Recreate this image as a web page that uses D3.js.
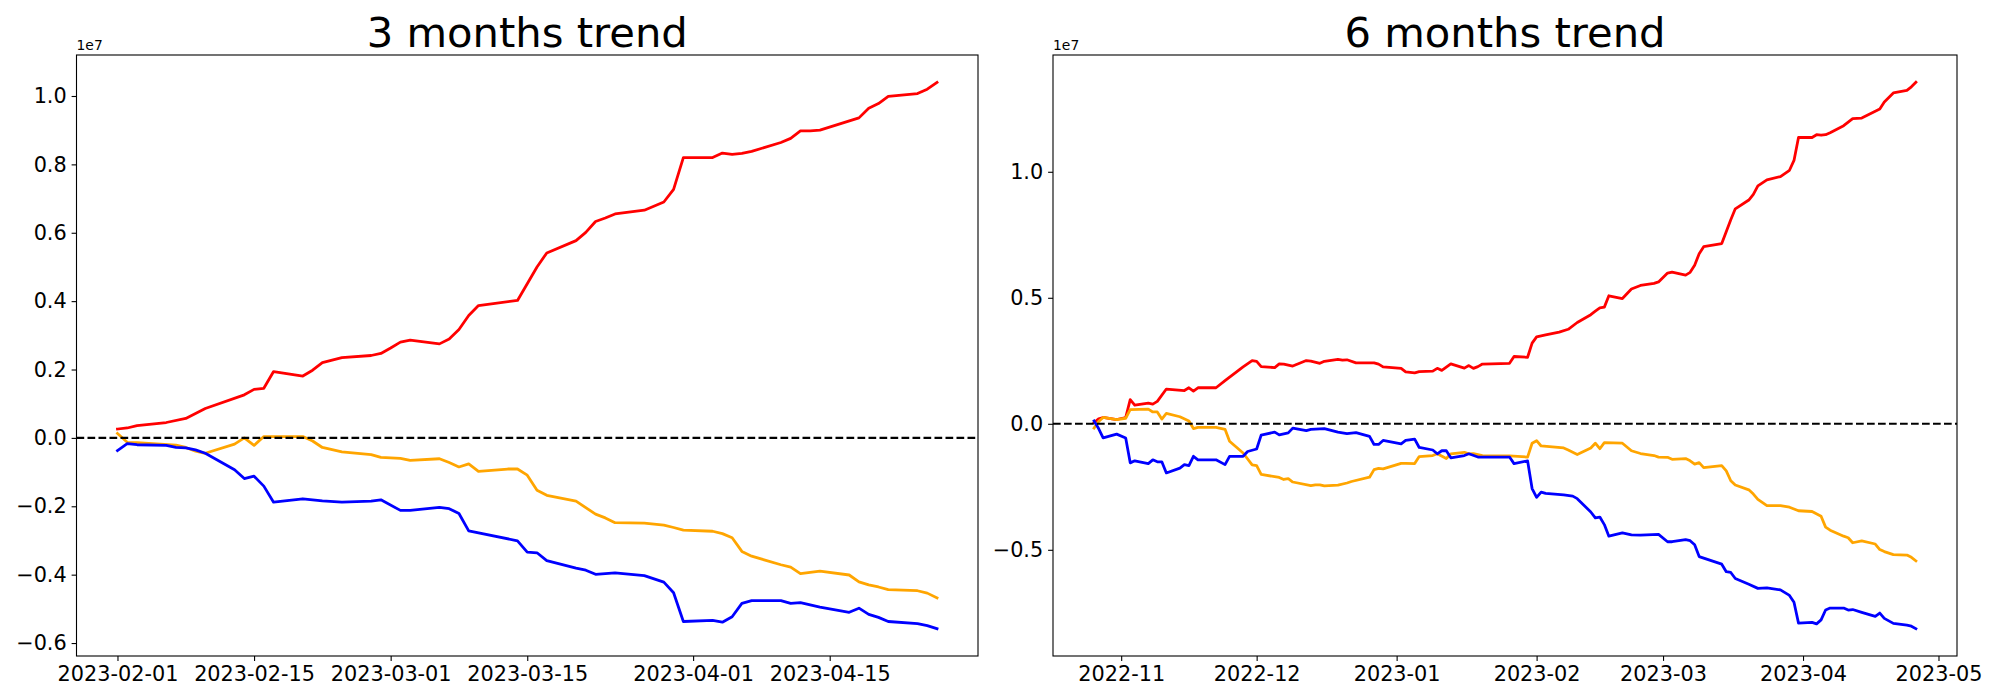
<!DOCTYPE html>
<html>
<head>
<meta charset="utf-8">
<script src="https://cdn.jsdelivr.net/npm/d3@7"></script>
<style>
  body { margin: 0; background: #fff; }
  text { font-family: "DejaVu Sans", sans-serif; fill: #000; }
</style>
</head>
<body>
<div id="chart"></div>
<script>
// values are in units of 1e7 (matplotlib offset label)

// ---- 3 months ----
var red3Dates = ["2023-02-01","2023-02-02","2023-02-03","2023-02-06","2023-02-08","2023-02-10","2023-02-14","2023-02-15","2023-02-16","2023-02-17","2023-02-20","2023-02-21","2023-02-22","2023-02-24","2023-02-27","2023-02-28","2023-03-01","2023-03-02","2023-03-03","2023-03-06","2023-03-07","2023-03-08","2023-03-09","2023-03-10","2023-03-14","2023-03-16","2023-03-17","2023-03-20","2023-03-21","2023-03-22","2023-03-23","2023-03-24","2023-03-27","2023-03-29","2023-03-30","2023-03-31","2023-04-03","2023-04-04","2023-04-05","2023-04-06","2023-04-07","2023-04-10","2023-04-11","2023-04-12","2023-04-13","2023-04-14","2023-04-18","2023-04-19","2023-04-20","2023-04-21","2023-04-24","2023-04-25","2023-04-26"];
var red3 = [0.026,0.029,0.036,0.045,0.057,0.086,0.126,0.142,0.145,0.194,0.181,0.198,0.220,0.235,0.241,0.247,0.263,0.280,0.286,0.275,0.289,0.317,0.358,0.387,0.402,0.500,0.541,0.577,0.601,0.633,0.643,0.655,0.666,0.690,0.727,0.820,0.820,0.833,0.829,0.832,0.838,0.864,0.876,0.898,0.898,0.900,0.936,0.964,0.978,0.999,1.007,1.020,1.040];

var orange3Dates = ["2023-02-01","2023-02-02","2023-02-03","2023-02-07","2023-02-08","2023-02-09","2023-02-10","2023-02-13","2023-02-14","2023-02-15","2023-02-16","2023-02-20","2023-02-21","2023-02-22","2023-02-24","2023-02-27","2023-02-28","2023-03-02","2023-03-03","2023-03-06","2023-03-07","2023-03-08","2023-03-09","2023-03-10","2023-03-13","2023-03-14","2023-03-15","2023-03-16","2023-03-17","2023-03-20","2023-03-22","2023-03-23","2023-03-24","2023-03-27","2023-03-29","2023-03-30","2023-03-31","2023-04-03","2023-04-04","2023-04-05","2023-04-06","2023-04-07","2023-04-10","2023-04-11","2023-04-12","2023-04-14","2023-04-17","2023-04-18","2023-04-19","2023-04-20","2023-04-21","2023-04-24","2023-04-25","2023-04-26"];
var orange3 = [0.013,-0.013,-0.014,-0.021,-0.028,-0.039,-0.045,-0.018,0.000,-0.022,0.004,0.004,-0.009,-0.028,-0.041,-0.049,-0.057,-0.060,-0.066,-0.061,-0.072,-0.085,-0.076,-0.098,-0.091,-0.091,-0.109,-0.153,-0.168,-0.185,-0.223,-0.234,-0.248,-0.249,-0.255,-0.262,-0.270,-0.273,-0.280,-0.292,-0.332,-0.346,-0.371,-0.378,-0.397,-0.390,-0.401,-0.421,-0.430,-0.436,-0.444,-0.447,-0.454,-0.468];

var blue3Dates = ["2023-02-01","2023-02-02","2023-02-03","2023-02-06","2023-02-07","2023-02-08","2023-02-09","2023-02-10","2023-02-13","2023-02-14","2023-02-15","2023-02-16","2023-02-17","2023-02-20","2023-02-22","2023-02-24","2023-02-27","2023-02-28","2023-03-02","2023-03-03","2023-03-06","2023-03-07","2023-03-08","2023-03-09","2023-03-14","2023-03-15","2023-03-16","2023-03-17","2023-03-20","2023-03-21","2023-03-22","2023-03-24","2023-03-27","2023-03-29","2023-03-30","2023-03-31","2023-04-03","2023-04-04","2023-04-05","2023-04-06","2023-04-07","2023-04-10","2023-04-11","2023-04-12","2023-04-14","2023-04-17","2023-04-18","2023-04-19","2023-04-20","2023-04-21","2023-04-24","2023-04-25","2023-04-26"];
var blue3 = [-0.037,-0.017,-0.020,-0.022,-0.028,-0.029,-0.035,-0.045,-0.093,-0.119,-0.112,-0.141,-0.188,-0.178,-0.184,-0.188,-0.185,-0.181,-0.212,-0.212,-0.203,-0.207,-0.221,-0.272,-0.301,-0.334,-0.336,-0.359,-0.381,-0.387,-0.399,-0.395,-0.403,-0.422,-0.453,-0.537,-0.534,-0.539,-0.523,-0.484,-0.476,-0.476,-0.484,-0.482,-0.495,-0.510,-0.498,-0.516,-0.525,-0.537,-0.543,-0.549,-0.558];

// ---- 6 months ----
var red6Dates = ["2022-10-26","2022-10-27","2022-10-28","2022-10-31","2022-11-02","2022-11-03","2022-11-04","2022-11-07","2022-11-08","2022-11-09","2022-11-11","2022-11-15","2022-11-16","2022-11-17","2022-11-18","2022-11-22","2022-11-24","2022-11-28","2022-11-30","2022-12-01","2022-12-02","2022-12-05","2022-12-06","2022-12-07","2022-12-09","2022-12-12","2022-12-13","2022-12-15","2022-12-16","2022-12-19","2022-12-20","2022-12-21","2022-12-23","2022-12-27","2022-12-28","2022-12-29","2023-01-02","2023-01-03","2023-01-05","2023-01-06","2023-01-09","2023-01-10","2023-01-11","2023-01-13","2023-01-16","2023-01-17","2023-01-18","2023-01-19","2023-01-20","2023-01-26","2023-01-27","2023-01-30","2023-01-31","2023-02-01","2023-02-03","2023-02-06","2023-02-08","2023-02-10","2023-02-13","2023-02-14","2023-02-15","2023-02-16","2023-02-17","2023-02-20","2023-02-22","2023-02-24","2023-02-27","2023-02-28","2023-03-02","2023-03-03","2023-03-06","2023-03-07","2023-03-08","2023-03-09","2023-03-10","2023-03-14","2023-03-16","2023-03-17","2023-03-20","2023-03-21","2023-03-22","2023-03-24","2023-03-27","2023-03-29","2023-03-30","2023-03-31","2023-04-03","2023-04-04","2023-04-05","2023-04-06","2023-04-07","2023-04-10","2023-04-12","2023-04-14","2023-04-18","2023-04-19","2023-04-21","2023-04-24","2023-04-25","2023-04-26"];
var red6 = [0.005,0.020,0.025,0.017,0.025,0.096,0.074,0.082,0.078,0.089,0.138,0.132,0.143,0.130,0.143,0.143,0.171,0.226,0.251,0.248,0.227,0.223,0.238,0.237,0.229,0.251,0.249,0.240,0.248,0.256,0.253,0.254,0.242,0.242,0.237,0.226,0.220,0.206,0.202,0.207,0.209,0.220,0.212,0.238,0.221,0.231,0.220,0.227,0.237,0.240,0.267,0.264,0.320,0.345,0.353,0.364,0.375,0.402,0.433,0.447,0.460,0.463,0.508,0.497,0.535,0.549,0.557,0.563,0.598,0.602,0.590,0.601,0.629,0.675,0.703,0.715,0.810,0.853,0.888,0.910,0.944,0.968,0.981,1.006,1.045,1.136,1.136,1.147,1.145,1.147,1.155,1.183,1.211,1.213,1.249,1.277,1.313,1.323,1.337,1.355];

var orange6Dates = ["2022-10-26","2022-10-27","2022-10-28","2022-10-31","2022-11-02","2022-11-03","2022-11-07","2022-11-08","2022-11-09","2022-11-10","2022-11-11","2022-11-14","2022-11-16","2022-11-17","2022-11-18","2022-11-22","2022-11-24","2022-11-25","2022-11-28","2022-11-30","2022-12-01","2022-12-02","2022-12-06","2022-12-07","2022-12-08","2022-12-09","2022-12-13","2022-12-14","2022-12-15","2022-12-16","2022-12-19","2022-12-21","2022-12-22","2022-12-26","2022-12-27","2022-12-28","2022-12-29","2023-01-02","2023-01-03","2023-01-05","2023-01-06","2023-01-09","2023-01-10","2023-01-12","2023-01-13","2023-01-16","2023-01-17","2023-01-18","2023-01-20","2023-01-26","2023-01-30","2023-01-31","2023-02-01","2023-02-02","2023-02-07","2023-02-08","2023-02-10","2023-02-13","2023-02-14","2023-02-15","2023-02-16","2023-02-20","2023-02-22","2023-02-24","2023-02-27","2023-02-28","2023-03-02","2023-03-03","2023-03-06","2023-03-07","2023-03-08","2023-03-09","2023-03-10","2023-03-14","2023-03-15","2023-03-16","2023-03-17","2023-03-20","2023-03-21","2023-03-22","2023-03-24","2023-03-27","2023-03-29","2023-03-31","2023-04-03","2023-04-05","2023-04-06","2023-04-07","2023-04-10","2023-04-11","2023-04-12","2023-04-14","2023-04-17","2023-04-18","2023-04-19","2023-04-21","2023-04-24","2023-04-25","2023-04-26"];
var orange6 = [-0.017,0.009,0.025,0.017,0.022,0.056,0.058,0.047,0.047,0.019,0.041,0.028,0.011,-0.019,-0.014,-0.014,-0.022,-0.069,-0.116,-0.163,-0.166,-0.201,-0.213,-0.221,-0.218,-0.231,-0.245,-0.242,-0.242,-0.246,-0.243,-0.235,-0.229,-0.212,-0.182,-0.177,-0.179,-0.157,-0.157,-0.158,-0.130,-0.126,-0.119,-0.138,-0.119,-0.113,-0.119,-0.118,-0.126,-0.127,-0.132,-0.077,-0.067,-0.088,-0.096,-0.104,-0.122,-0.096,-0.077,-0.099,-0.075,-0.077,-0.107,-0.118,-0.126,-0.132,-0.133,-0.141,-0.138,-0.147,-0.160,-0.154,-0.174,-0.166,-0.187,-0.226,-0.243,-0.262,-0.279,-0.300,-0.325,-0.325,-0.331,-0.345,-0.348,-0.367,-0.410,-0.422,-0.446,-0.452,-0.472,-0.465,-0.477,-0.499,-0.507,-0.519,-0.521,-0.530,-0.544];

var blue6Dates = ["2022-10-26","2022-10-27","2022-10-28","2022-10-31","2022-11-02","2022-11-03","2022-11-04","2022-11-07","2022-11-08","2022-11-09","2022-11-10","2022-11-11","2022-11-14","2022-11-15","2022-11-16","2022-11-17","2022-11-18","2022-11-22","2022-11-24","2022-11-25","2022-11-28","2022-11-29","2022-12-01","2022-12-02","2022-12-05","2022-12-06","2022-12-08","2022-12-09","2022-12-12","2022-12-13","2022-12-16","2022-12-19","2022-12-21","2022-12-23","2022-12-26","2022-12-27","2022-12-28","2022-12-29","2023-01-02","2023-01-03","2023-01-05","2023-01-06","2023-01-09","2023-01-10","2023-01-11","2023-01-12","2023-01-13","2023-01-16","2023-01-17","2023-01-19","2023-01-26","2023-01-27","2023-01-30","2023-01-31","2023-02-01","2023-02-02","2023-02-03","2023-02-07","2023-02-09","2023-02-10","2023-02-13","2023-02-14","2023-02-15","2023-02-16","2023-02-17","2023-02-20","2023-02-22","2023-02-24","2023-02-28","2023-03-02","2023-03-03","2023-03-06","2023-03-07","2023-03-08","2023-03-09","2023-03-14","2023-03-15","2023-03-16","2023-03-17","2023-03-20","2023-03-22","2023-03-24","2023-03-27","2023-03-29","2023-03-30","2023-03-31","2023-04-03","2023-04-04","2023-04-05","2023-04-06","2023-04-07","2023-04-10","2023-04-11","2023-04-12","2023-04-14","2023-04-17","2023-04-18","2023-04-19","2023-04-21","2023-04-24","2023-04-25","2023-04-26"];
var blue6 = [0.011,-0.019,-0.056,-0.041,-0.056,-0.155,-0.147,-0.158,-0.143,-0.151,-0.151,-0.195,-0.176,-0.162,-0.166,-0.129,-0.143,-0.143,-0.162,-0.129,-0.129,-0.110,-0.100,-0.045,-0.033,-0.044,-0.036,-0.017,-0.027,-0.022,-0.019,-0.033,-0.039,-0.035,-0.050,-0.082,-0.082,-0.066,-0.080,-0.066,-0.061,-0.094,-0.104,-0.119,-0.107,-0.107,-0.135,-0.126,-0.119,-0.132,-0.132,-0.158,-0.147,-0.257,-0.292,-0.271,-0.276,-0.282,-0.287,-0.297,-0.350,-0.373,-0.370,-0.400,-0.446,-0.433,-0.441,-0.442,-0.439,-0.468,-0.468,-0.460,-0.464,-0.480,-0.527,-0.557,-0.587,-0.590,-0.614,-0.637,-0.653,-0.651,-0.659,-0.681,-0.708,-0.791,-0.788,-0.794,-0.778,-0.739,-0.731,-0.731,-0.739,-0.737,-0.748,-0.764,-0.751,-0.772,-0.792,-0.799,-0.803,-0.813];

var xTicks3 = ["2023-02-01","2023-02-15","2023-03-01","2023-03-15","2023-04-01","2023-04-15"];
var xTicks6 = ["2022-11","2022-12","2023-01","2023-02","2023-03","2023-04","2023-05"];
var yTicks3 = [-0.6,-0.4,-0.2,0.0,0.2,0.4,0.6,0.8,1.0];
var yTicks6 = [-0.5,0.0,0.5,1.0];

var width = 2000;
var height = 700;
var parseDay = d3.timeParse("%Y-%m-%d");
var parseMonth = d3.timeParse("%Y-%m");

var svg = d3.select("#chart")
            .append("svg")
            .attr("width", width)
            .attr("height", height);

svg.append("rect").attr("width", width).attr("height", height).attr("fill", "#fff");

// matplotlib style autoscale: data extent plus 5% on each side
var padExtent = function(ext) {
  var m = (ext[1] - ext[0]) * 0.05;
  return [ext[0] - m, ext[1] + m];
}

var drawPanel = function(p) {
  var series = p.series.map(function(s) {
    return { color: s.color, pts: s.dates.map(function(d, i) { return [parseDay(d), s.values[i]]; }) };
  });
  var allPts = [].concat.apply([], series.map(function(s) { return s.pts; }));

  var tExt = d3.extent(allPts, function(d) { return +d[0]; });
  var vExt = d3.extent(allPts, function(d) { return d[1]; });

  var x = d3.scaleTime()
            .domain(padExtent(tExt).map(function(t) { return new Date(t); }))
            .range([p.left, p.right]);
  var y = d3.scaleLinear()
            .domain(padExtent(vExt))
            .range([p.bottom, p.top]);

  var g = svg.append("g");

  var line = d3.line()
               .x(function(d) { return x(d[0]); })
               .y(function(d) { return y(d[1]); });

  series.forEach(function(s) {
    g.append("path")
     .datum(s.pts)
     .attr("d", line)
     .attr("fill", "none")
     .attr("stroke", s.color)
     .attr("stroke-width", 2.78)
     .attr("stroke-linejoin", "round")
     .attr("stroke-linecap", "square");
  });

  // zero reference
  g.append("line")
   .attr("x1", p.left).attr("x2", p.right)
   .attr("y1", y(0)).attr("y2", y(0))
   .attr("stroke", "#000")
   .attr("stroke-width", 2.08)
   .attr("stroke-dasharray", "7.7,3.3");

  var xAxis = d3.axisBottom(x)
                .tickValues(p.xTicks.map(p.parseTick))
                .tickFormat(d3.timeFormat(p.xFormat))
                .tickSize(4.9).tickPadding(4.9).tickSizeOuter(0);
  var yAxis = d3.axisLeft(y)
                .tickValues(p.yTicks)
                .tickFormat(d3.format(".1f"))
                .tickSize(4.9).tickPadding(4.9).tickSizeOuter(0);

  var gx = g.append("g").attr("transform", "translate(0," + p.bottom + ")").call(xAxis);
  var gy = g.append("g").attr("transform", "translate(" + p.left + ",0)").call(yAxis);
  [gx, gy].forEach(function(a) {
    a.select(".domain").remove();
    a.selectAll(".tick line").attr("stroke", "#000").attr("stroke-width", 1.1);
    a.selectAll(".tick text").attr("font-size", "20.8px").attr("font-family", "DejaVu Sans");
  });

  g.append("rect")
   .attr("x", p.left).attr("y", p.top)
   .attr("width", p.right - p.left).attr("height", p.bottom - p.top)
   .attr("fill", "none").attr("stroke", "#000").attr("stroke-width", 1.1);

  g.append("text")
   .attr("x", (p.left + p.right) / 2)
   .attr("y", 47)
   .attr("text-anchor", "middle")
   .attr("font-size", "41.7px")
   .text(p.title);

  g.append("text")
   .attr("x", p.left)
   .attr("y", 50)
   .attr("font-size", "13.9px")
   .text("1e7");
}

drawPanel({
  title: "3 months trend",
  left: 76.5, right: 978, top: 55, bottom: 656,
  xTicks: xTicks3, parseTick: parseDay, xFormat: "%Y-%m-%d",
  yTicks: yTicks3,
  series: [
    { dates: red3Dates, values: red3, color: "red" },
    { dates: orange3Dates, values: orange3, color: "orange" },
    { dates: blue3Dates, values: blue3, color: "blue" }
  ]
});

drawPanel({
  title: "6 months trend",
  left: 1053, right: 1957, top: 55, bottom: 656,
  xTicks: xTicks6, parseTick: parseMonth, xFormat: "%Y-%m",
  yTicks: yTicks6,
  series: [
    { dates: red6Dates, values: red6, color: "red" },
    { dates: orange6Dates, values: orange6, color: "orange" },
    { dates: blue6Dates, values: blue6, color: "blue" }
  ]
});
</script>
</body>
</html>
